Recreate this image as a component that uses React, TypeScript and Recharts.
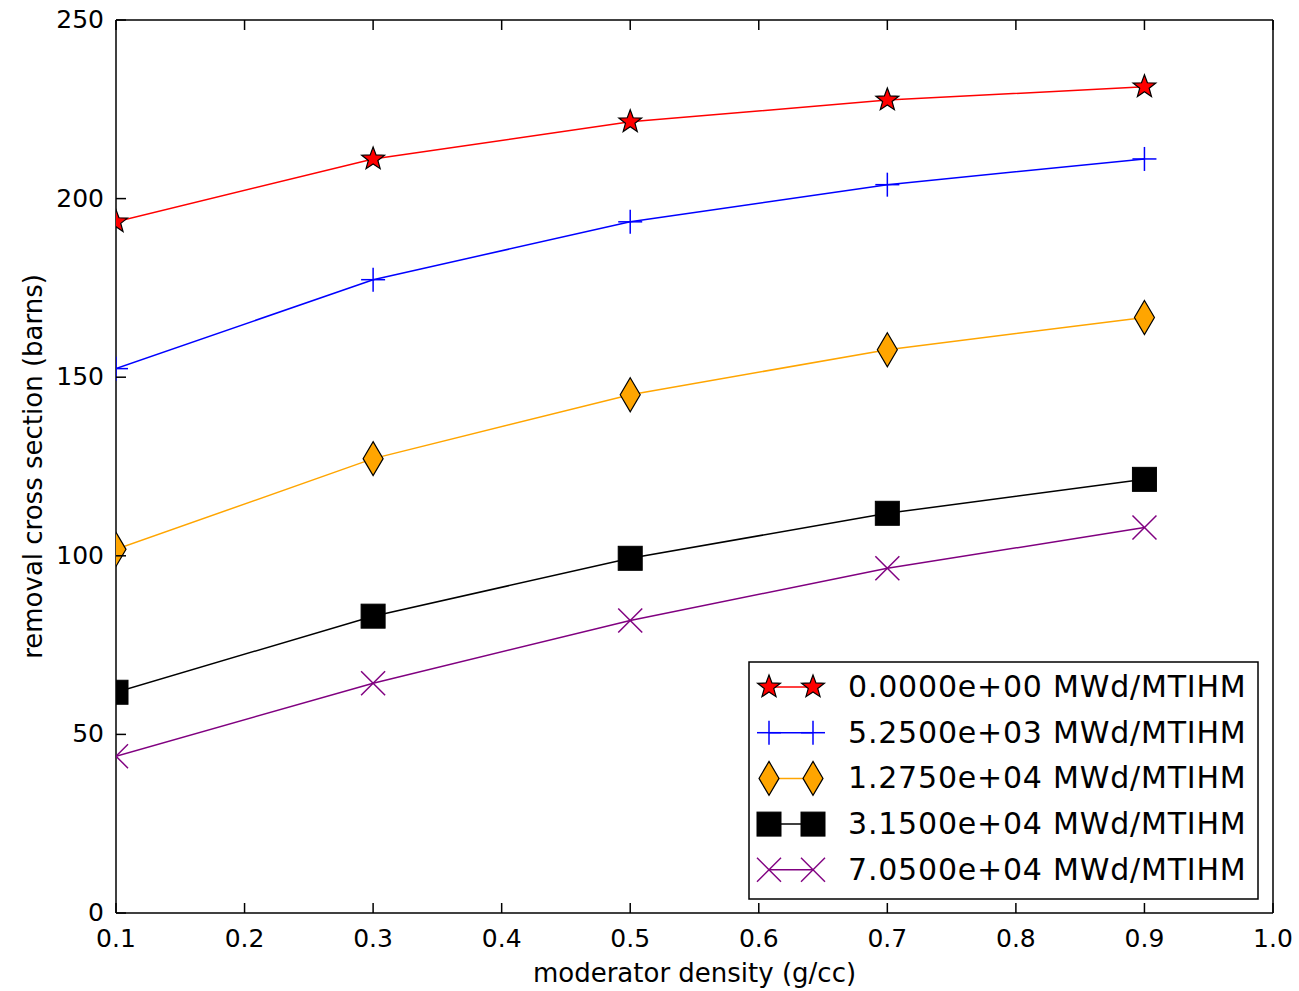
import { LineChart, Line, XAxis, YAxis, Legend } from 'recharts';

// moderator density (g/cc)
const densities = [0.1, 0.3, 0.5, 0.7, 0.9];

// removal cross section (barns) per burnup step
const burnup0 = [193.5, 211.1, 221.5, 227.6, 231.3];
const burnup5250 = [152.4, 177.3, 193.5, 203.9, 211.1];
const burnup12750 = [101.8, 127.2, 145.1, 157.7, 166.7];
const burnup31500 = [61.8, 83.1, 99.3, 111.9, 121.4];
const burnup70500 = [43.9, 64.3, 81.9, 96.5, 107.9];

const seriesLabels = [
  '0.0000e+00 MWd/MTIHM',
  '5.2500e+03 MWd/MTIHM',
  '1.2750e+04 MWd/MTIHM',
  '3.1500e+04 MWd/MTIHM',
  '7.0500e+04 MWd/MTIHM',
];

const xTicks = [0.1, 0.2, 0.3, 0.4, 0.5, 0.6, 0.7, 0.8, 0.9, 1.0];
const yTicks = [0, 50, 100, 150, 200, 250];

type MarkerKind = 'star' | 'plus' | 'diamond' | 'square' | 'cross';

const series: { key: string; values: number[]; color: string; marker: MarkerKind }[] = [
  { key: 's0', values: burnup0, color: '#ff0000', marker: 'star' },
  { key: 's1', values: burnup5250, color: '#0000ff', marker: 'plus' },
  { key: 's2', values: burnup12750, color: '#ffa500', marker: 'diamond' },
  { key: 's3', values: burnup31500, color: '#000000', marker: 'square' },
  { key: 's4', values: burnup70500, color: '#800080', marker: 'cross' },
];

const data = densities.map((x, i) => {
  const row: Record<string, number> = { x };
  series.forEach((s) => {
    row[s.key] = s.values[i];
  });
  return row;
});

const FONT = '"DejaVu Sans", Verdana, sans-serif';
const W = 1299;
const H = 991;
// top / right axes are 1px wide so they get drawn (frame + inner ticks)
const MARGIN = { top: 19, right: 25, left: 0, bottom: 0 };
const Y_AXIS_W = 116;
const X_AXIS_H = 78;
const TICK_LEN = 10;

function starPoints(cx: number, cy: number, ro: number, ri: number) {
  const pts: string[] = [];
  for (let i = 0; i < 10; i++) {
    const r = i % 2 === 0 ? ro : ri;
    const a = -Math.PI / 2 + (i * Math.PI) / 5;
    pts.push(`${cx + r * Math.cos(a)},${cy + r * Math.sin(a)}`);
  }
  return pts.join(' ');
}

function Marker({ kind, cx, cy, color }: { kind: MarkerKind; cx: number; cy: number; color: string }) {
  switch (kind) {
    case 'star':
      return <polygon points={starPoints(cx, cy, 12, 5)} fill={color} stroke="#000" strokeWidth={1.2} />;
    case 'plus':
      return (
        <g stroke={color} strokeWidth={1.5}>
          <line x1={cx - 12} y1={cy} x2={cx + 12} y2={cy} />
          <line x1={cx} y1={cy - 12} x2={cx} y2={cy + 12} />
        </g>
      );
    case 'diamond':
      return (
        <polygon
          points={`${cx},${cy - 17} ${cx + 10},${cy} ${cx},${cy + 17} ${cx - 10},${cy}`}
          fill={color}
          stroke="#000"
          strokeWidth={1.2}
        />
      );
    case 'square':
      return <rect x={cx - 12} y={cy - 12} width={24} height={24} fill={color} stroke="#000" strokeWidth={1} />;
    case 'cross':
      return (
        <g stroke={color} strokeWidth={1.5}>
          <line x1={cx - 12} y1={cy - 12} x2={cx + 12} y2={cy + 12} />
          <line x1={cx - 12} y1={cy + 12} x2={cx + 12} y2={cy - 12} />
        </g>
      );
    default:
      return null;
  }
}

const tickText = { fontFamily: FONT, fontSize: 25, fill: '#000' };

function BottomTick({ x, y, payload }: any) {
  return (
    <g>
      <line x1={x} y1={y} x2={x} y2={y - TICK_LEN} stroke="#000" strokeWidth={1.5} />
      <text x={x} y={y + 34} textAnchor="middle" style={tickText}>
        {Number(payload.value).toFixed(1)}
      </text>
    </g>
  );
}

function TopTick({ x, y }: any) {
  return <line x1={x} y1={y} x2={x} y2={y + TICK_LEN} stroke="#000" strokeWidth={1.5} />;
}

function LeftTick({ x, y, payload }: any) {
  return (
    <g>
      <line x1={x} y1={y} x2={x + TICK_LEN} y2={y} stroke="#000" strokeWidth={1.5} />
      <text x={x - 12} y={y + 8} textAnchor="end" style={tickText}>
        {payload.value}
      </text>
    </g>
  );
}

function RightTick({ x, y }: any) {
  return <line x1={x} y1={y} x2={x - TICK_LEN} y2={y} stroke="#000" strokeWidth={1.5} />;
}

function YLabel(props: any) {
  const vb = props.viewBox || { x: 0, y: MARGIN.top + 1, width: Y_AXIS_W, height: H - MARGIN.top - 1 - X_AXIS_H };
  const cx = vb.x + 33;
  const cy = vb.y + vb.height / 2;
  return (
    <text
      x={cx}
      y={cy}
      transform={`rotate(-90, ${cx}, ${cy})`}
      textAnchor="middle"
      dominantBaseline="central"
      style={{ fontFamily: FONT, fontSize: 26, fill: '#000' }}
    >
      removal cross section (barns)
    </text>
  );
}

function XLabel(props: any) {
  const vb = props.viewBox || { x: Y_AXIS_W, y: H - X_AXIS_H, width: W - Y_AXIS_W - MARGIN.right - 1, height: X_AXIS_H };
  return (
    <text
      x={vb.x + vb.width / 2}
      y={vb.y + 69}
      textAnchor="middle"
      style={{ fontFamily: FONT, fontSize: 26, fill: '#000' }}
    >
      moderator density (g/cc)
    </text>
  );
}

function LegendBox() {
  const rowH = 45.7;
  return (
    <svg width={511} height={239} style={{ display: 'block' }}>
      <rect x={1} y={1} width={509} height={237} fill="#fff" stroke="#000" strokeWidth={1.5} />
      {series.map((s, i) => {
        const cy = 26 + i * rowH;
        return (
          <g key={s.key}>
            <line x1={21} y1={cy} x2={65} y2={cy} stroke={s.color} strokeWidth={1.5} />
            <Marker kind={s.marker} cx={21} cy={cy} color={s.color} />
            <Marker kind={s.marker} cx={65} cy={cy} color={s.color} />
            <text
              x={100}
              y={cy + 10}
              style={{ fontFamily: FONT, fontSize: 30, letterSpacing: 0.8, fill: '#000' }}
            >
              {seriesLabels[i]}
            </text>
          </g>
        );
      })}
    </svg>
  );
}

export default function App() {
  return (
    <div style={{ position: 'absolute', left: 0, top: 0, width: W, height: H, background: '#fff' }}>
      <LineChart width={W} height={H} data={data} margin={MARGIN}>
        <XAxis
          xAxisId="bottom"
          dataKey="x"
          type="number"
          domain={[0.1, 1.0]}
          ticks={xTicks}
          allowDataOverflow
          height={X_AXIS_H}
          tickSize={0}
          tickMargin={0}
          tick={<BottomTick />}
          tickLine={false}
          axisLine={{ stroke: '#000', strokeWidth: 1.5 }}
          label={<XLabel />}
        />
        <XAxis
          xAxisId="top"
          orientation="top"
          dataKey="x"
          type="number"
          domain={[0.1, 1.0]}
          ticks={xTicks}
          allowDataOverflow
          height={1}
          tickSize={0}
          tickMargin={0}
          tick={<TopTick />}
          tickLine={false}
          axisLine={{ stroke: '#000', strokeWidth: 1.5 }}
        />
        <YAxis
          yAxisId="left"
          type="number"
          domain={[0, 250]}
          ticks={yTicks}
          width={Y_AXIS_W}
          tickSize={0}
          tickMargin={0}
          tick={<LeftTick />}
          tickLine={false}
          axisLine={{ stroke: '#000', strokeWidth: 1.5 }}
          label={<YLabel />}
        />
        <YAxis
          yAxisId="right"
          orientation="right"
          type="number"
          domain={[0, 250]}
          ticks={yTicks}
          width={1}
          tickSize={0}
          tickMargin={0}
          tick={<RightTick />}
          tickLine={false}
          axisLine={{ stroke: '#000', strokeWidth: 1.5 }}
        />
        {series.map((s, i) => (
          <Line
            key={s.key}
            xAxisId="bottom"
            yAxisId="left"
            dataKey={s.key}
            name={seriesLabels[i]}
            type="linear"
            stroke={s.color}
            strokeWidth={1.5}
            isAnimationActive={false}
            activeDot={false}
            dot={(p: any) => (
              <Marker key={`${s.key}-${p.index}`} kind={s.marker} cx={p.cx} cy={p.cy} color={s.color} />
            )}
          />
        ))}
        <Legend
          layout="vertical"
          align="center"
          verticalAlign="middle"
          content={<LegendBox />}
          wrapperStyle={{ left: 748, top: 661, width: 511, height: 239 }}
        />
      </LineChart>
    </div>
  );
}
